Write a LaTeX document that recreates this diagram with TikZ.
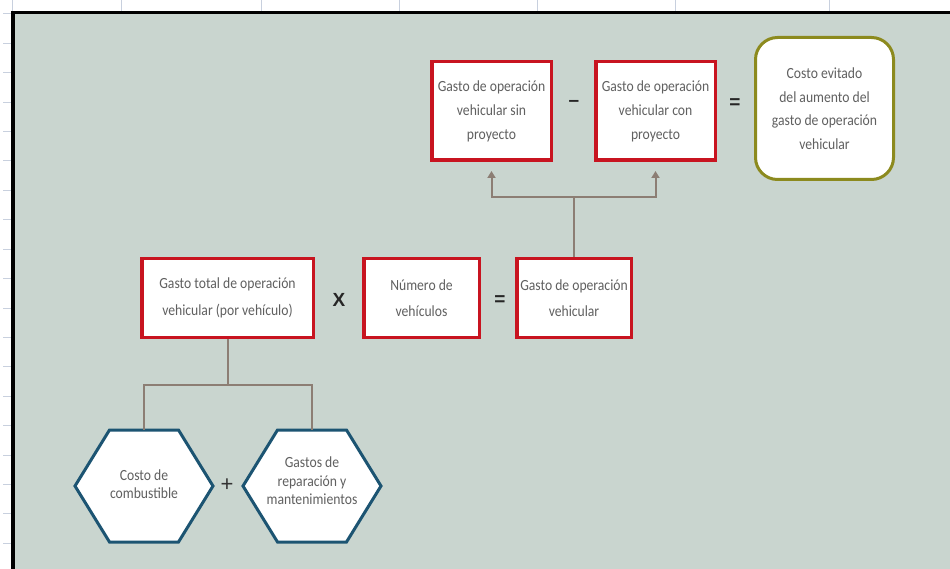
\documentclass[tikz,border=0pt]{standalone}
\usepackage{fontspec}
\setmainfont{Carlito}[FakeStretch=0.88]
\newfontfamily\opfont{Liberation Sans}
\usetikzlibrary{calc,arrows.meta}

\definecolor{panel}{RGB}{201,213,207}
\definecolor{gridtick}{RGB}{200,208,222}
\definecolor{boxred}{RGB}{200,20,32}
\definecolor{olive}{RGB}{140,138,30}
\definecolor{hexblue}{RGB}{28,84,114}
\definecolor{linkgray}{RGB}{140,126,116}
\definecolor{txtgray}{RGB}{96,96,96}

\tikzset{
  redbox/.style={draw=boxred, line width=3.5pt, fill=white, inner sep=1pt,
    align=center, text=txtgray, font=\fontsize{15.5}{24}\selectfont},
  lowbox/.style={redbox, font=\fontsize{15.5}{26.5}\selectfont},
  resultbox/.style={draw=olive, line width=3pt, fill=white, rounded corners=22pt,
    align=center, text=txtgray, font=\fontsize{15.5}{23.5}\selectfont},
  hexline/.style={draw=hexblue, line width=3pt, fill=white, line join=miter},
  hextext/.style={align=center, text=txtgray, font=\fontsize{15.5}{18.5}\selectfont},
  opsign/.style={text=black!85, font=\opfont\fontsize{19}{19}\selectfont\bfseries},
  link/.style={draw=linkgray, line width=2pt},
  linkarrow/.style={link, -{Triangle[width=8pt,length=7pt]}, shorten >=9pt},
  tick/.style={draw=gridtick, line width=1pt}
}

\begin{document}
\begin{tikzpicture}[x=1pt,y=-1pt]
  % sheet and cell markers
  \fill[white] (0,0) rectangle (950,569);
  \useasboundingbox (0,0) rectangle (950,569);
  \foreach \gx in {12,121,261,399,537,675,829}
    \draw[tick] (\gx,0) -- (\gx,12);
  \foreach \k in {0,...,18}
    \draw[tick] (3,{14+29.4*\k}) -- (14,{14+29.4*\k});

  % panel with frame
  \fill[panel] (13,13) rectangle (950,569);
  \draw[black, line width=3.5pt] (12.75,569) -- (12.75,12.75) -- (950,12.75);

  % top row
  \node[redbox, minimum width=119.5pt, minimum height=98.5pt] (sin) at (491.5,111)
    {Gasto de operación\\vehicular sin\\proyecto};
  \node[redbox, minimum width=119.5pt, minimum height=98.5pt] (con) at (655.5,111)
    {Gasto de operación\\vehicular con\\proyecto};
  \node[resultbox, minimum width=138pt, minimum height=142pt] (evit) at (824.5,108.5)
    {Costo evitado\\del aumento del\\gasto de operación\\vehicular};
  \node[opsign] (minus) at (574,103) {–};
  \node[opsign] (eqtop) at (735,104) {=};

  % middle row
  \node[lowbox, minimum width=171.5pt, minimum height=78.5pt] (total) at (227.5,298)
    {Gasto total de operación\\vehicular (por vehículo)};
  \node[lowbox, minimum width=115.5pt, minimum height=78.5pt] (num) at (421.5,298)
    {Número de\\vehículos};
  \node[lowbox, minimum width=114.5pt, minimum height=78.5pt] (gov) at (574,298)
    {Gasto de operación\\vehicular};
  \node[opsign] (times) at (339,300) {X};
  \node[opsign] (eqmid) at (500,301) {=};

  % hexagons
  \foreach \hx/\hn in {144/comb,312/rep}{
    \coordinate (\hn c) at (\hx,486);
    \draw[hexline] ($(\hn c)+(-69,0)$) -- ($(\hn c)+(-34.5,-56)$) -- ($(\hn c)+(34.5,-56)$)
      -- ($(\hn c)+(69,0)$) -- ($(\hn c)+(34.5,56)$) -- ($(\hn c)+(-34.5,56)$) -- cycle;
    \coordinate (\hn top) at ($(\hn c)+(0,-56)$);
  }
  \node[hextext] (comb) at (144,484) {Costo de\\combustible};
  \node[hextext] (rep) at (312,481) {Gastos de\\reparación y\\mantenimientos};
  \node[text=black!80, font=\opfont\fontsize{22}{22}\selectfont] (plus) at (227,485) {+};

  % connectors
  \coordinate (jtop) at (574,197);
  \draw[link] (gov.north) -- (jtop);
  \draw[linkarrow] (jtop) -| (sin.south);
  \draw[linkarrow] (jtop) -| (con.south);

  \coordinate (jlow) at (227.5,385);
  \draw[link] (total.south) -- (jlow);
  \draw[link] (jlow) -| (combtop);
  \draw[link] (jlow) -| (reptop);
\end{tikzpicture}
\end{document}
